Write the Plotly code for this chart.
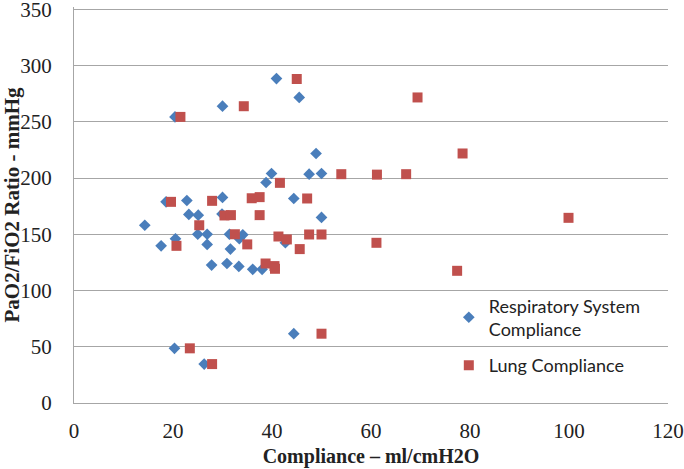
import plotly.graph_objects as go

# Respiratory System Compliance (ml/cmH2O) vs PaO2/FiO2
rs_x = [14.3, 17.6, 18.6, 20.4, 20.5, 20.3, 22.8, 23.2, 25.1, 25.0, 26.9, 26.9,
        27.8, 26.3, 30.0, 30.0, 29.9, 30.9, 31.6, 31.4, 33.3, 34.1, 33.4, 36.1,
        38.0, 38.8, 39.9, 40.9, 42.7, 44.4, 44.4, 45.5, 47.5, 48.9, 50.0, 50.0]
rs_y = [158, 139.7, 178.8, 254.3, 146, 48.6, 180, 167.6, 167, 150, 150, 141,
        122.6, 34.6, 263.8, 182.7, 168, 124, 136.8, 150, 121.4, 149.5, 146, 118.8,
        118.8, 196, 204, 288.4, 142.5, 181.8, 61.6, 271.6, 203.4, 221.8, 204, 165]

# Lung Compliance (ml/cmH2O) vs PaO2/FiO2
lung_x = [19.6, 20.7, 21.5, 23.4, 25.3, 27.9, 27.9, 30.4, 31.7, 32.5, 34.3, 35.0,
          35.9, 37.5, 37.5, 38.7, 40.5, 40.6, 41.6, 41.3, 43.0, 45.0, 45.6, 47.1,
          47.5, 50.0, 50.0, 54.0, 61.2, 61.1, 67.1, 69.4, 77.4, 78.5, 99.9]
lung_y = [178.8, 139.7, 254.3, 48.6, 158, 179.7, 34.6, 166.7, 167, 150, 263.8, 141,
          182, 183, 167, 124, 121.7, 119.3, 195.7, 148, 145.4, 288, 136.8, 181.8,
          149.8, 149.8, 61.6, 203.4, 203, 142.4, 203.4, 271.6, 117.5, 221.8, 164.6]

x_ticks = [0, 20, 40, 60, 80, 100, 120]
y_ticks = [0, 50, 100, 150, 200, 250, 300, 350]

fig = go.Figure()
fig.add_trace(go.Scatter(
    x=rs_x, y=rs_y, mode="markers", name="Respiratory System<br>Compliance",
    legendgroup="rs",
    marker=dict(symbol="diamond", size=9, color="#4a7ebb", line=dict(width=0)),
))
fig.add_trace(go.Scatter(
    x=lung_x, y=lung_y, mode="markers", name="Lung Compliance",
    legendgroup="lung",
    marker=dict(symbol="square", size=10, color="#c0504d", line=dict(width=0)),
))

serif = "Liberation Serif, Times New Roman, serif"
fig.update_layout(
    width=684, height=469,
    margin=dict(l=74, r=16, t=7, b=66),
    paper_bgcolor="white", plot_bgcolor="white",
    showlegend=True,
    legend=dict(
        x=0.631, y=0.292, xanchor="left", yanchor="top",
        bgcolor="rgba(0,0,0,0)",
        font=dict(family="Lato, Carlito, sans-serif", size=18, color="#222"),
        tracegroupgap=10, itemwidth=30,
    ),
    xaxis=dict(
        range=[0, 120], tickvals=x_ticks, ticktext=[str(v) for v in x_ticks],
        showgrid=False, zeroline=False, automargin=False,
        showline=True, linecolor="#a6a6a6", linewidth=1,
        ticks="", ticklabelstandoff=9, ticklabeloverflow="allow",
        tickfont=dict(family=serif, size=21, color="#222"),
        title=dict(text="<b>Compliance – ml/cmH2O</b>",
                   font=dict(family=serif, size=20, color="#222"), standoff=6),
    ),
    yaxis=dict(
        range=[0, 352], tickvals=y_ticks, ticktext=[str(v) for v in y_ticks],
        showgrid=True, gridcolor="#a6a6a6", gridwidth=1, zeroline=False,
        automargin=False,
        showline=True, linecolor="#a6a6a6", linewidth=1,
        ticks="", ticklabelstandoff=17, ticklabeloverflow="allow",
        tickfont=dict(family=serif, size=21, color="#222"),
        title=dict(text="<b>PaO2/FiO2 Ratio - mmHg</b>",
                   font=dict(family=serif, size=21, color="#222"), standoff=4),
    ),
)

# the page's default 8px body margin would shift the 684x469 figure; remove it
fig.write_html("out.html", config={"displayModeBar": False},
               post_script="document.body.style.margin='0';")
